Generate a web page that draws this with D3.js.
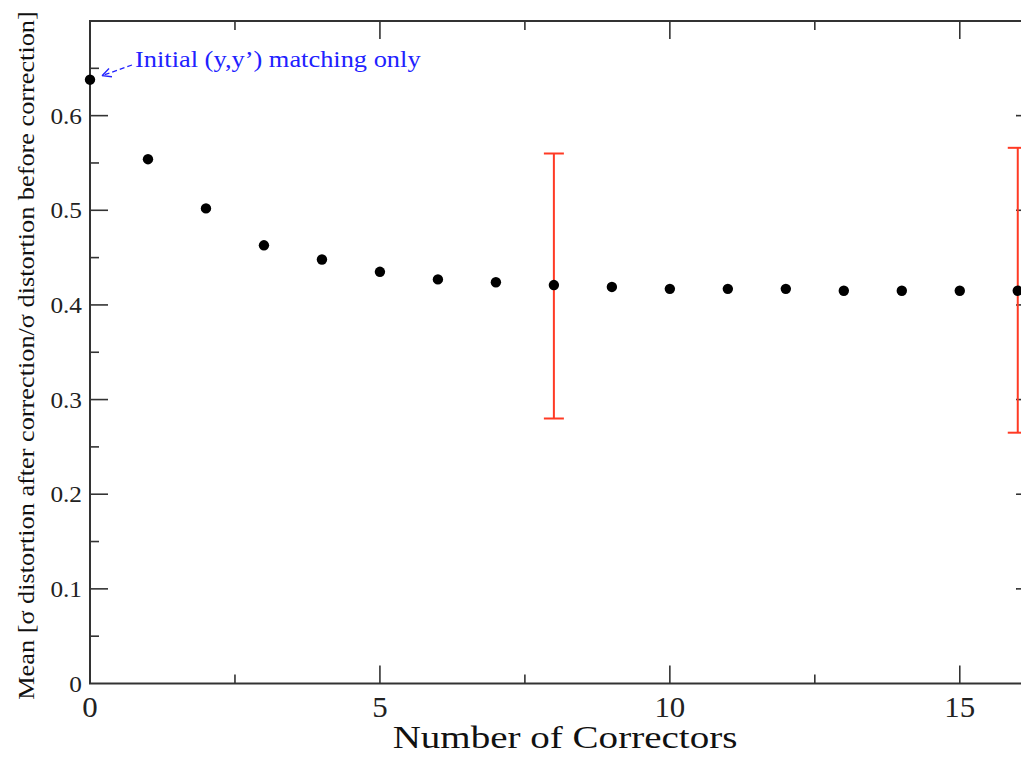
<!DOCTYPE html>
<html>
<head>
<meta charset="utf-8">
<script src="https://cdn.jsdelivr.net/npm/d3@7"></script>
<style>
  html, body { margin: 0; padding: 0; background: #fff; overflow: hidden; }
  svg { display: block; }
  text { font-family: "Liberation Serif", "Times New Roman", serif; }
</style>
</head>
<body>
<svg id="chart" width="1021" height="758"></svg>
<script>
// Number of correctors and mean distortion ratio
const correctors = [0, 1, 2, 3, 4, 5, 6, 7, 8, 9, 10, 11, 12, 13, 14, 15, 16];
const meanRatio = [0.638, 0.554, 0.502, 0.463, 0.448, 0.435, 0.427, 0.424, 0.421, 0.419, 0.417, 0.417, 0.417, 0.415, 0.415, 0.415, 0.415];

// Spread shown as error bars at selected points
const errX = [8, 16];
const errLow = [0.280, 0.265];
const errHigh = [0.560, 0.566];

const xTicks = [0, 5, 10, 15];
const xMinorTicks = [2.5, 7.5, 12.5];
const yTicks = [0, 0.1, 0.2, 0.3, 0.4, 0.5, 0.6];
const yMinorTicks = [0.05, 0.15, 0.25, 0.35, 0.45, 0.55, 0.65];
const xDomain = [0, 16.28];
const yDomain = [0, 0.7];

const xTitle = "Number of Correctors";
const yTitle = "Mean [\u03c3 distortion after correction/\u03c3 distortion before correction]";
const noteText = "Initial (y,y\u2019) matching only";

const svg = d3.select("#chart");
const plotL = 90, plotT = 21, plotR = 1034, plotB = 683.5;

const x = d3.scaleLinear().domain(xDomain).range([plotL, plotR]);
const y = d3.scaleLinear().domain(yDomain).range([plotB, plotT]);

const axisColor = "#333";
const majorLen = 18, minorLen = 9;

// Text with a slightly widened face, anchored at (px, py), optionally rotated
function wideText(px, py, str, size, sx, anchor, color, rot) {
  return svg.append("text")
    .attr("transform", `translate(${px},${py}) rotate(${rot || 0}) scale(${sx},1)`)
    .attr("text-anchor", anchor).attr("font-size", size).attr("fill", color)
    .text(str);
}

// Frame
svg.append("rect")
  .attr("x", plotL).attr("y", plotT)
  .attr("width", plotR - plotL).attr("height", plotB - plotT)
  .attr("fill", "none").attr("stroke", axisColor).attr("stroke-width", 2);

// Ticks drawn on all four sides, pointing inward
function xTickMarks(sel, ticks, len) {
  sel.selectAll(null).data(ticks).enter().append("line")
    .attr("x1", d => x(d)).attr("x2", d => x(d))
    .attr("y1", plotB).attr("y2", plotB - len)
    .attr("stroke", axisColor).attr("stroke-width", 1.6);
  sel.selectAll(null).data(ticks).enter().append("line")
    .attr("x1", d => x(d)).attr("x2", d => x(d))
    .attr("y1", plotT).attr("y2", plotT + len)
    .attr("stroke", axisColor).attr("stroke-width", 1.6);
}
function yTickMarks(sel, ticks, len) {
  sel.selectAll(null).data(ticks).enter().append("line")
    .attr("x1", plotL).attr("x2", plotL + len)
    .attr("y1", d => y(d)).attr("y2", d => y(d))
    .attr("stroke", axisColor).attr("stroke-width", 1.6);
  sel.selectAll(null).data(ticks).enter().append("line")
    .attr("x1", plotR).attr("x2", plotR - len)
    .attr("y1", d => y(d)).attr("y2", d => y(d))
    .attr("stroke", axisColor).attr("stroke-width", 1.6);
}
const tickG = svg.append("g");
xTickMarks(tickG, xTicks, majorLen);
xTickMarks(tickG, xMinorTicks, minorLen);
yTickMarks(tickG, yTicks.filter(d => d > 0), majorLen);
yTickMarks(tickG, yMinorTicks, minorLen);

// Tick labels
xTicks.forEach(d => wideText(x(d), 717, d3.format("d")(d), 30, 1.03, "middle", "#222"));
yTicks.forEach(d => wideText(82, y(d) + 8, d === 0 ? "0" : d3.format(".1f")(d), 23, 1.1, "end", "#222"));

// Axis titles
wideText(565, 748, xTitle, 32, 1.22, "middle", "#111");
wideText(34, 355.5, yTitle, 24, 1.095, "middle", "#111", -90);

// Error bars
const errColor = "#ff3a24";
const errG = svg.append("g");
errX.forEach((xv, i) => {
  const cx = x(xv);
  errG.append("line").attr("x1", cx).attr("x2", cx)
    .attr("y1", y(errLow[i])).attr("y2", y(errHigh[i]))
    .attr("stroke", errColor).attr("stroke-width", 2);
  [errLow[i], errHigh[i]].forEach(v => {
    errG.append("line").attr("x1", cx - 10).attr("x2", cx + 10)
      .attr("y1", y(v)).attr("y2", y(v))
      .attr("stroke", errColor).attr("stroke-width", 2);
  });
});

// Points
svg.append("g").selectAll("circle").data(correctors).enter().append("circle")
  .attr("cx", (d) => x(d)).attr("cy", (d, i) => y(meanRatio[i]))
  .attr("r", 5.2).attr("fill", "#000");

// Annotation with arrow
const noteColor = "#2121ff";
const tip = [x(correctors[0]) + 12, y(meanRatio[0]) - 4];
const tail = [132, 65];
svg.append("line")
  .attr("x1", tail[0]).attr("y1", tail[1]).attr("x2", tip[0]).attr("y2", tip[1])
  .attr("stroke", noteColor).attr("stroke-width", 1.3).attr("stroke-dasharray", "5,3");
const ang = Math.atan2(tip[1] - tail[1], tip[0] - tail[0]);
[0.45, -0.45].forEach(a => {
  svg.append("line")
    .attr("x1", tip[0]).attr("y1", tip[1])
    .attr("x2", tip[0] - 10 * Math.cos(ang + a)).attr("y2", tip[1] - 10 * Math.sin(ang + a))
    .attr("stroke", noteColor).attr("stroke-width", 1.3);
});
wideText(135, 67, noteText, 24, 1.1, "start", noteColor);
</script>
</body>
</html>
